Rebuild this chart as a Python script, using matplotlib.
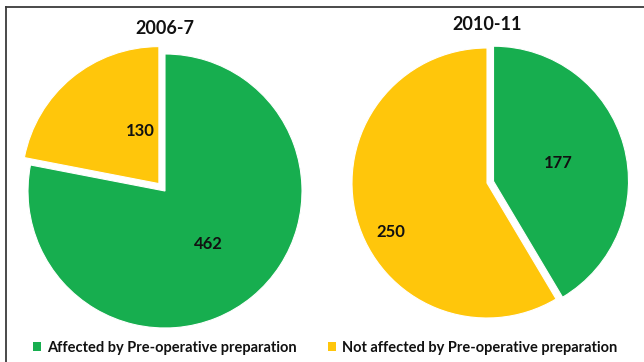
import matplotlib
matplotlib.use("Agg")
import matplotlib.pyplot as plt
from matplotlib.lines import Line2D
from matplotlib.patches import Patch
import numpy as np

categories = ["Affected by Pre-operative preparation", "Not affected by Pre-operative preparation"]
titles = ["2006-7", "2010-11"]
values_2006 = [462, 130]
values_2010 = [177, 250]
explode_2006 = [0, 0.07]
explode_2010 = [0.05, 0]
label_r_2006 = [0.5, 0.41]
label_r_2010 = [0.5, 0.8]
label_dang_2006 = [0, -20]
label_dang_2010 = [0, 11.5]

colors = ["#17AE4F", "#FFC60B"]
FONT = "Lato"

W, H = 644, 362
fig = plt.figure(figsize=(W / 100, H / 100), dpi=100)

def add_pie(cx, cy, R, vals, expl, lr, ld, title, title_y):
    pad = 1.15
    ax = fig.add_axes([(cx - pad * R) / W, (H - cy - pad * R) / H, 2 * pad * R / W, 2 * pad * R / H])
    wedges, _ = ax.pie(vals, colors=colors, startangle=90, counterclock=False,
                       explode=expl, radius=1,
                       wedgeprops=dict(edgecolor="white", linewidth=0.8))
    for w, v, r, e, d in zip(wedges, vals, lr, expl, ld):
        mid = np.deg2rad((w.theta1 + w.theta2) / 2)
        ang = mid + np.deg2rad(d)
        ox, oy = e * np.cos(mid), e * np.sin(mid)
        ax.text(ox + r * np.cos(ang), oy + r * np.sin(ang), str(v), ha="center", va="center",
                fontsize=12, fontweight="bold", family=FONT, color="#111111")
    ax.set_xlim(-pad, pad)
    ax.set_ylim(-pad, pad)
    ax.set_aspect("equal")
    ax.axis("off")
    fig.text(cx / W, 1 - title_y / H, title, ha="center", va="center",
             fontsize=13, fontweight="bold", family=FONT, color="#111111")

add_pie(165, 191, 137, values_2006, explode_2006, label_r_2006, label_dang_2006, titles[0], 28)
add_pie(487, 183, 135, values_2010, explode_2010, label_r_2010, label_dang_2010, titles[1], 24)

# frame lines (top and left)
fig.add_artist(Line2D([6 / W, 1], [1 - 7 / H, 1 - 7 / H], color="#3a3a3a", lw=1.3, transform=fig.transFigure))
fig.add_artist(Line2D([6 / W, 6 / W], [0, 1 - 7 / H], color="#3a3a3a", lw=1.3, transform=fig.transFigure))

handles = [Patch(facecolor=c, edgecolor="none") for c in colors]
leg = fig.legend(handles, categories, loc="center", bbox_to_anchor=(0.505, 1 - 348 / H),
                 ncol=2, frameon=False, handlelength=0.55, handleheight=0.55,
                 handletextpad=0.4, columnspacing=2.2,
                 prop=dict(family=FONT, weight="bold", size=10.5))
for t in leg.get_texts():
    t.set_color("#111111")

fig.savefig("out.png", dpi=100)
